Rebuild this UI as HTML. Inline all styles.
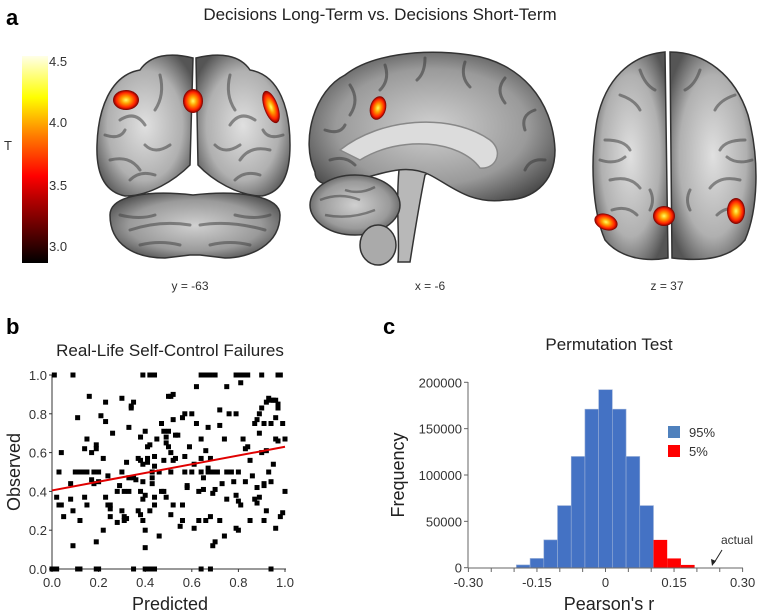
<!DOCTYPE html>
<html><head><meta charset="utf-8">
<style>
body{margin:0;background:#fff;width:762px;height:614px;overflow:hidden;font-family:"Liberation Sans",Arial,sans-serif}
svg{position:absolute;left:0;top:0}
</style></head>
<body>
<svg width="762" height="614" viewBox="0 0 762 614" font-family="Liberation Sans, Arial, sans-serif">
<defs>
<linearGradient id="cbar" x1="0" y1="1" x2="0" y2="0">
<stop offset="0" stop-color="#000"/><stop offset="0.3" stop-color="#b00000"/><stop offset="0.42" stop-color="#ff0000"/><stop offset="0.62" stop-color="#ff8000"/><stop offset="0.8" stop-color="#ffff00"/><stop offset="1" stop-color="#ffffe8"/>
</linearGradient>
<radialGradient id="blob"><stop offset="0" stop-color="#ffff60"/><stop offset="0.35" stop-color="#ffa000"/><stop offset="0.75" stop-color="#ff2000"/><stop offset="1" stop-color="#700000"/></radialGradient>
<radialGradient id="gm" cx="0.5" cy="0.5" r="0.6"><stop offset="0" stop-color="#e0e0e0"/><stop offset="0.65" stop-color="#b0b0b0"/><stop offset="1" stop-color="#555"/></radialGradient>
<radialGradient id="gm2" cx="0.5" cy="0.5" r="0.6"><stop offset="0" stop-color="#d0d0d0"/><stop offset="0.65" stop-color="#9a9a9a"/><stop offset="1" stop-color="#4a4a4a"/></radialGradient>
</defs>

<!-- panel a -->
<text x="6" y="25" font-size="22" font-weight="bold">a</text>
<text x="380" y="20" font-size="17" text-anchor="middle" fill="#222">Decisions Long-Term vs. Decisions Short-Term</text>
<rect x="22" y="56" width="26" height="207" fill="url(#cbar)"/>
<g font-size="13" fill="#333">
<text x="49" y="66">4.5</text><text x="49" y="127">4.0</text><text x="49" y="190">3.5</text><text x="49" y="251">3.0</text>
</g>
<text x="4" y="150" font-size="13" fill="#333">T</text>

<!-- coronal -->
<g stroke="#333" stroke-width="1.5">
<path d="M193,58 C170,52 150,55 140,70 C110,75 98,110 97,145 C96,175 105,192 125,196 C150,196 175,180 190,165 Z" fill="url(#gm)"/>
<path d="M196,58 C220,52 240,55 250,70 C280,75 290,110 290,145 C290,175 282,192 262,196 C238,196 212,180 198,165 Z" fill="url(#gm)"/>
<path d="M110,215 C110,195 150,190 193,195 C236,190 280,195 280,215 C280,245 250,258 225,258 L200,255 L190,255 L165,258 C135,258 110,245 110,215 Z" fill="url(#gm2)"/>
<g stroke="#444" stroke-width="3" fill="none" opacity="0.55" stroke-linecap="round">
<path d="M120,120 q15,-10 25,5"/><path d="M110,160 q20,-5 30,10"/><path d="M160,75 q5,20 -5,35"/><path d="M230,75 q-5,20 5,35"/><path d="M270,150 q-20,-5 -30,10"/><path d="M255,120 q-15,-10 -25,5"/>
<path d="M105,135 q15,5 20,-5"/><path d="M145,145 q10,10 25,0"/><path d="M215,145 q10,10 25,0"/><path d="M283,135 q-15,5 -20,-5"/><path d="M130,180 q10,-10 25,-5"/><path d="M235,180 q10,-10 25,-5"/>
<path d="M130,230 q30,-10 60,-5"/><path d="M200,225 q30,-5 65,5"/><path d="M120,215 q20,5 35,0"/><path d="M235,215 q20,5 35,0"/><path d="M140,245 q20,-5 40,0"/><path d="M210,245 q20,-5 40,0"/>
</g>
</g>
<ellipse cx="126" cy="100" rx="13" ry="10" fill="url(#blob)"/>
<ellipse cx="193" cy="101" rx="10" ry="12" fill="url(#blob)"/>
<ellipse cx="271" cy="107" rx="7" ry="17" transform="rotate(-20 271 107)" fill="url(#blob)"/>
<text x="190" y="290" font-size="12" fill="#333" text-anchor="middle">y = -63</text>

<!-- sagittal -->
<g stroke="#333" stroke-width="1.5">
<path d="M400,160 C395,200 400,240 398,262 L410,262 C415,230 420,200 425,175 L445,160 Z" fill="#b8b8b8"/>
<path d="M315,172 C300,140 315,90 345,75 C370,55 420,48 470,55 C520,62 553,100 555,150 C555,185 530,200 505,200 C470,205 450,185 430,175 C400,160 370,180 335,185 C320,185 315,180 315,172 Z" fill="url(#gm2)"/>
<g stroke="#3a3a3a" stroke-width="3" fill="none" opacity="0.55" stroke-linecap="round">
<path d="M350,85 q10,15 0,30"/><path d="M385,65 q5,15 -5,25"/><path d="M425,58 q0,15 -8,22"/><path d="M465,62 q-5,15 5,25"/><path d="M505,78 q-10,12 0,25"/><path d="M535,110 q-15,5 -10,20"/><path d="M545,160 q-15,-2 -20,10"/><path d="M325,130 q15,5 20,-5"/><path d="M330,160 q15,-5 25,5"/>
</g>
<path d="M340,150 C380,118 450,112 490,140 C505,152 495,170 480,168 C460,140 400,135 360,160 Z" fill="#dcdcdc" stroke="#888"/>
<ellipse cx="355" cy="205" rx="45" ry="30" fill="url(#gm2)"/>
<g stroke="#3a3a3a" stroke-width="2.5" fill="none" opacity="0.5"><path d="M320,200 q20,-8 40,0"/><path d="M325,215 q25,5 50,-5"/><path d="M345,190 q15,5 30,-3"/></g>
<ellipse cx="378" cy="245" rx="18" ry="20" fill="#aaa"/>
</g>
<ellipse cx="378" cy="108" rx="8" ry="12" transform="rotate(15 378 108)" fill="url(#blob)"/>
<text x="430" y="290" font-size="12" fill="#333" text-anchor="middle">x = -6</text>

<!-- axial -->
<g stroke="#333" stroke-width="1.5">
<path d="M665,52 C630,55 605,80 597,120 C590,160 592,210 605,240 C620,258 645,262 668,258 Z" fill="url(#gm)"/>
<path d="M670,52 C705,52 735,75 748,115 C760,160 758,210 745,240 C730,258 705,262 672,258 Z" fill="url(#gm)"/>
<g stroke="#444" stroke-width="3" fill="none" opacity="0.55" stroke-linecap="round">
<path d="M605,140 q20,0 25,10"/><path d="M610,180 q20,-5 30,8"/><path d="M745,140 q-20,0 -25,10"/><path d="M740,180 q-20,-5 -30,8"/><path d="M620,95 q15,5 20,15"/><path d="M735,95 q-15,5 -20,15"/>
<path d="M600,160 q15,5 25,-3"/><path d="M752,160 q-15,5 -25,-3"/><path d="M612,210 q15,-5 25,5"/><path d="M742,210 q-15,-5 -25,5"/><path d="M640,70 q5,15 15,20"/><path d="M700,70 q-5,15 -15,20"/><path d="M650,190 q5,10 0,20"/><path d="M690,190 q-5,10 0,20"/>
</g>
</g>
<ellipse cx="606" cy="222" rx="12" ry="8" transform="rotate(20 606 222)" fill="url(#blob)"/>
<ellipse cx="664" cy="216" rx="11" ry="10" fill="url(#blob)"/>
<ellipse cx="736" cy="211" rx="9" ry="13" fill="url(#blob)"/>
<text x="667" y="290" font-size="12" fill="#333" text-anchor="middle">z = 37</text>

<!-- panel b -->
<text x="6" y="334" font-size="22" font-weight="bold">b</text>
<text x="170" y="356" font-size="17" text-anchor="middle" fill="#222">Real-Life Self-Control Failures</text>
<g id="scatter"></g>
<text x="170" y="610" font-size="18" text-anchor="middle" fill="#222">Predicted</text>
<text transform="translate(20 472) rotate(-90)" font-size="18" text-anchor="middle" fill="#222">Observed</text>

<!-- panel c -->
<text x="383" y="334" font-size="22" font-weight="bold">c</text>
<text x="609" y="350" font-size="17" text-anchor="middle" fill="#222">Permutation Test</text>
<g id="hist"></g>
<text x="609" y="610" font-size="18" text-anchor="middle" fill="#222">Pearson's r</text>
<text transform="translate(404 475) rotate(-90)" font-size="18" text-anchor="middle" fill="#222">Frequency</text>
<rect x="668" y="426" width="12" height="12" fill="#4f81bd"/>
<text x="689" y="437" font-size="13" fill="#333">95%</text>
<rect x="668" y="445" width="12" height="12" fill="#ff0000"/>
<text x="689" y="456" font-size="13" fill="#333">5%</text>
<text x="721" y="544" font-size="12" fill="#333">actual</text>
<g><line x1="722" y1="550" x2="714" y2="563" stroke="#222" stroke-width="1"/><path d="M712,566 L711,559 L716,561 Z" fill="#222"/></g>
</svg>
<script>
const NS='http://www.w3.org/2000/svg';
// scatter data
const scatterX=[0.01,0.09,0.39,0.42,0.43,0.44,0.64,0.65,0.66,0.68,0.70,0.79,0.81,0.83,0.84,0.90,0.97,0.98,
0,0.01,0.02,0.11,0.12,0.19,0.2,0.35,0.4,0.41,0.42,0.43,0.44,0.64,0.68,0.94,
0.02,0.03,0.04,0.04,0.03,0.05,0.08,0.08,0.09,0.09,0.10,0.11,0.11,0.12,0.12,0.13,0.14,0.14,0.15,0.15,0.15,0.16,0.17,0.17,0.18,0.18,0.19,0.19,0.19,0.20,0.20,0.21,0.22,0.22,0.23,0.23,0.23,0.24,0.24,0.25,0.25,0.25,0.26,0.28,0.28,0.29,0.30,0.30,0.30,0.31,0.31,0.31,0.32,0.32,0.33,0.33,0.33,0.34,0.34,0.35,0.35,0.36,0.37,0.37,0.38,0.38,0.38,0.38,0.39,0.39,0.39,0.39,0.40,0.40,0.40,0.40,0.41,0.41,0.41,0.42,0.42,0.43,0.43,0.43,0.44,0.44,0.44,0.44,0.45,0.46,0.46,0.47,0.47,0.48,0.48,0.48,0.49,0.49,0.49,0.50,0.50,0.50,0.51,0.51,0.51,0.51,0.52,0.52,0.52,0.52,0.53,0.53,0.54,0.55,0.56,0.56,0.56,0.57,0.57,0.57,0.58,0.58,0.59,0.60,0.60,0.61,0.61,0.62,0.62,0.63,0.63,0.64,0.64,0.64,0.65,0.65,0.66,0.66,0.67,0.67,0.67,0.68,0.68,0.69,0.69,0.69,0.70,0.70,0.71,0.72,0.72,0.72,0.73,0.74,0.74,0.75,0.75,0.75,0.76,0.77,0.78,0.79,0.79,0.79,0.80,0.80,0.80,0.81,0.81,0.82,0.83,0.83,0.84,0.85,0.85,0.86,0.87,0.87,0.88,0.88,0.88,0.89,0.89,0.89,0.90,0.90,0.91,0.91,0.91,0.91,0.92,0.92,0.92,0.93,0.93,0.94,0.94,0.94,0.95,0.95,0.96,0.96,0.96,0.97,0.97,0.97,0.96,0.98,0.99,0.99,1.0,1.0];
const scatterY=[1,1,1,1,1,1,1,1,1,1,1,1,1,1,1,1,1,1,
0,0,0,0,0,0,0,0,0,0,0,0,0,0,0,0,
0.37,0.33,0.33,0.6,0.5,0.27,0.36,0.44,0.3,0.12,0.5,0.78,0.5,0.25,0.5,0.5,0.62,0.37,0.67,0.5,0.33,0.89,0.6,0.46,0.5,0.44,0.64,0.62,0.14,0.5,0.45,0.79,0.57,0.2,0.86,0.76,0.37,0.48,0.33,0.33,0.31,0.27,0.7,0.4,0.24,0.43,0.88,0.5,0.3,0.4,0.27,0.25,0.55,0.26,0.73,0.4,0.47,0.83,0.84,0.86,0.47,0.46,0.57,0.3,0.68,0.56,0.4,0.28,0.54,0.45,0.36,0.25,0.71,0.38,0.11,0.2,0.63,0.55,0.57,0.64,0.3,0.5,0.47,0.44,0.58,0.53,0.37,0.33,0.67,0.17,0.5,0.75,0.4,0.71,0.56,0.4,0.68,0.65,0.37,0.71,0.63,0.89,0.89,0.6,0.28,0.5,0.9,0.77,0.56,0.33,0.69,0.57,0.69,0.22,0.78,0.33,0.25,0.8,0.58,0.5,0.42,0.43,0.63,0.8,0.5,0.54,0.21,0.94,0.75,0.4,0.25,0.67,0.57,0.5,0.47,0.41,0.61,0.25,0.73,0.5,0.52,0.57,0.27,0.5,0.39,0.12,0.41,0.14,0.5,0.82,0.74,0.25,0.44,0.67,0.17,0.94,0.5,0.36,0.8,0.5,0.45,0.8,0.38,0.21,0.5,0.35,0.2,0.96,0.33,0.67,0.62,0.45,0.63,0.56,0.25,0.48,0.36,0.75,0.77,0.42,0.34,0.8,0.7,0.37,0.83,0.6,0.75,0.44,0.43,0.25,0.86,0.61,0.3,0.88,0.5,0.87,0.75,0.45,0.87,0.54,0.87,0.78,0.67,0.85,0.83,0.66,0.21,0.27,0.29,0.75,0.67,0.4];
const fitLine=[0.405,0.63];
const scatterTicks=['0.0','0.2','0.4','0.6','0.8','1.0'];
// histogram data
const binCenters=[-0.18,-0.15,-0.12,-0.09,-0.06,-0.03,0,0.03,0.06,0.09,0.12,0.15,0.18];
const binCounts=[3000,10000,30000,67000,120000,171000,192000,171000,120000,67000,30000,10000,3000];
const binIsTail=[0,0,0,0,0,0,0,0,0,0,1,1,1];
const histYTicks=[0,50000,100000,150000,200000];
const histXTicks=['-0.30','-0.15','0','0.15','0.30'];
const binWidth=0.03;

function el(t,a,p){const e=document.createElementNS(NS,t);for(const k in a)e.setAttribute(k,a[k]);p.appendChild(e);return e;}

// scatter
const sg=document.getElementById('scatter');
const sx=v=>52+v*233, sy=v=>569-v*194;
el('line',{x1:52,y1:375,x2:52,y2:569,stroke:'#333','stroke-width':1},sg);
el('line',{x1:52,y1:569,x2:286,y2:569,stroke:'#333','stroke-width':1},sg);
scatterTicks.forEach(t=>{const v=parseFloat(t);
 const a=el('text',{x:47,y:sy(v)+5,'font-size':13,'text-anchor':'end',fill:'#333'},sg);a.textContent=t;
 
 
 el('line',{x1:49,y1:sy(v),x2:52,y2:sy(v),stroke:'#333'},sg);
 const b=el('text',{x:sx(v),y:587,'font-size':13,'text-anchor':'middle',fill:'#333'},sg);b.textContent=t;
 
 
 el('line',{x1:sx(v),y1:569,x2:sx(v),y2:572,stroke:'#333'},sg);
});
for(let i=0;i<scatterX.length;i++){
 const r=el('rect',{x:sx(scatterX[i])-2.5,y:sy(scatterY[i])-2.5,width:5,height:5,fill:'#000'},sg);
 
 
}
const fl=el('line',{x1:sx(0),y1:sy(fitLine[0]),x2:sx(1),y2:sy(fitLine[1]),stroke:'#e00000','stroke-width':2},sg);



// histogram
const hg=document.getElementById('hist');
const hx=v=>605.5+v*457, hy=v=>567.7-v*(185.4/200000);
binCenters.forEach((c,i)=>{
 const r=el('rect',{x:hx(c-binWidth/2),y:hy(binCounts[i]),width:hx(c+binWidth/2)-hx(c-binWidth/2),height:hy(0)-hy(binCounts[i]),fill:binIsTail[i]?'#ff0000':'#4472c4',stroke:binIsTail[i]?'none':'#9ab0d8','stroke-width':0.6},hg);
 
 
});
el('line',{x1:468,y1:382,x2:468,y2:568,stroke:'#666'},hg);
el('line',{x1:468,y1:568,x2:743,y2:568,stroke:'#666'},hg);
histYTicks.forEach(v=>{
 el('line',{x1:464,y1:hy(v),x2:468,y2:hy(v),stroke:'#666'},hg);
 const t=el('text',{x:462,y:hy(v)+5,'font-size':13,'text-anchor':'end',fill:'#333'},hg);t.textContent=v;
 
 
});
for(let k=-6;k<=6;k++){const x=hx(k*0.05);el('line',{x1:x,y1:568,x2:x,y2:572,stroke:'#666'},hg);}
histXTicks.forEach(s=>{
 const t=el('text',{x:hx(parseFloat(s)),y:587,'font-size':13,'text-anchor':'middle',fill:'#333'},hg);t.textContent=s;
 
 
});
</script>
</body></html>
